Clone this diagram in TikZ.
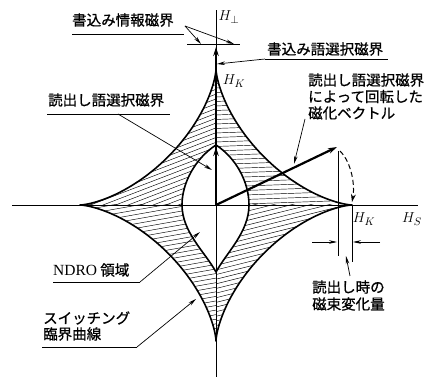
\documentclass[tikz,border=0pt]{standalone}
\usepackage{fontspec}
\newfontfamily\jp{Noto Sans CJK JP}[FakeBold=0.8]
\newfontfamily\tms{Liberation Serif}
\usetikzlibrary{arrows.meta}
\begin{document}
\begin{tikzpicture}[x=1pt,y=-1pt,
  axis/.style={line width=0.7pt},
  curve/.style={line width=1.6pt, line join=round},
  vec/.style={line width=2.2pt, -{Stealth[length=9pt,width=5.5pt]}},
  leader/.style={line width=0.7pt, -{Stealth[length=8pt,width=3.6pt]}},
  thinline/.style={line width=0.7pt},
  uline/.style={line width=0.8pt},
  hatch/.style={line width=0.45pt},
  jl/.style={font=\jp\fontsize{14.5}{17}\selectfont, inner sep=0pt, anchor=west},
  ml/.style={font=\fontsize{15}{18}\selectfont, inner sep=0pt},
]
\useasboundingbox (0,0) rectangle (432,377);

% coordinates
\coordinate (O) at (216,205);
\coordinate (axL) at (12,205);
\coordinate (axR) at (418,205);
\coordinate (axT) at (216,10);
\coordinate (axB) at (216,377);
\coordinate (vtop) at (216,47);
\coordinate (vread) at (216,147);
\coordinate (mtip) at (337,147);
\coordinate (dA) at (340,151);
\coordinate (dB) at (352,202);
\coordinate (l1t) at (338,151);
\coordinate (l1b) at (338,256);
\coordinate (l2t) at (352,205);
\coordinate (l2b) at (352,262);
\coordinate (dl1) at (312,242);
\coordinate (dl2) at (337,242);
\coordinate (dr1) at (380,242);
\coordinate (dr2) at (353,242);
\coordinate (barL) at (187,45);
\coordinate (barR) at (240,45);

% hatching
\begin{scope}
  \clip plot[domain=0:360,samples=241] ({216+136*cos(\x)*cos(\x)*cos(\x)},{205+136*sin(\x)*sin(\x)*sin(\x)}) -- cycle;
  \begin{scope}
    \clip (0,0) rectangle (216,205);
    \foreach \k in {-45,...,45} \draw[hatch, shift={(216,205)}, rotate=21] (-230,\k*4.5) -- (230,\k*4.5);
  \end{scope}
  \begin{scope}
    \clip (216,0) rectangle (432,205);
    \foreach \k in {-45,...,45} \draw[hatch, shift={(216,205)}, rotate=2] (-230,\k*4.5) -- (230,\k*4.5);
  \end{scope}
  \begin{scope}
    \clip (0,205) rectangle (216,377);
    \foreach \k in {-45,...,45} \draw[hatch, shift={(216,205)}, rotate=10] (-230,\k*4.5) -- (230,\k*4.5);
  \end{scope}
  \begin{scope}
    \clip (216,205) rectangle (432,377);
    \foreach \k in {-45,...,45} \draw[hatch, shift={(216,205)}, rotate=14] (-230,\k*4.5) -- (230,\k*4.5);
  \end{scope}
  \fill[white] (216,145) .. controls (196,158) and (182,182) .. (182,205)
     .. controls (182,232) and (205,252) .. (216,272)
     .. controls (227,252) and (249,232) .. (249,205)
     .. controls (249,182) and (236,158) .. (216,145) -- cycle;
\end{scope}

% switching astroid
\draw[curve] plot[domain=0:360,samples=241] ({216+136*cos(\x)*cos(\x)*cos(\x)},{205+136*sin(\x)*sin(\x)*sin(\x)}) -- cycle;
% NDRO lens
\draw[curve] (216,145) .. controls (196,158) and (182,182) .. (182,205)
     .. controls (182,232) and (205,252) .. (216,272)
     .. controls (227,252) and (249,232) .. (249,205)
     .. controls (249,182) and (236,158) .. (216,145) -- cycle;

% axes
\draw[axis] (axL) -- (axR);
\draw[axis] (axB) -- (axT);

% vectors
\draw[vec] (O) -- (vtop);
\draw[vec] (O) -- (vread);
\draw[vec] (O) -- (mtip);
\draw[line width=1pt, dash pattern=on 5pt off 3pt, -{Stealth[length=8pt,width=5pt]}] (dA) .. controls (352,163) and (355,186) .. (dB);

% write information field bar
\draw[line width=1pt] (barL) -- (barR);

% flux change markers
\draw[thinline] (l1t) -- (l1b);
\draw[thinline] (l2t) -- (l2b);
\draw[leader] (dl1) -- (dl2);
\draw[leader] (dr1) -- (dr2);

% labels
\node[ml] (Hperp) at (229,17) {$H_{\perp}$};
\node[ml] (HKt) at (234,81) {$H_K$};
\node[ml] (HKr) at (364,219) {$H_K$};
\node[ml] (HS) at (412,219) {$H_S$};

\node[jl] (wi) at (72,20) {書込み情報磁界};
\coordinate (wiU1) at (72,34);
\coordinate (wiU2) at (184,34);
\draw[uline] (wiU1) -- (wiU2);
\coordinate (wiS) at (185,26);
\coordinate (wiE1) at (201,44);
\coordinate (wiE2) at (234,44);
\draw[leader] (wiS) -- (wiE1);
\draw[leader] (wiS) -- (wiE2);

\node[jl] (ww) at (267,49) {書込み語選択磁界};
\coordinate (wwU1) at (265,59);
\coordinate (wwU2) at (388,59);
\draw[uline] (wwU1) -- (wwU2);
\coordinate (wwE) at (217,64);
\draw[leader] (wwU1) -- (wwE);

\node[jl] (rw) at (48,100) {読出し語選択磁界};
\coordinate (rwU1) at (47,114);
\coordinate (rwU2) at (170,114);
\draw[uline] (rwU1) -- (rwU2);
\coordinate (rwS) at (118,114);
\coordinate (rwE) at (212,170);
\draw[leader] (rwS) -- (rwE);

\node[jl] (mv1) at (308,80) {読出し語選択磁界};
\node[jl] (mv2) at (308,96.5) {によって回転した};
\node[jl] (mv3) at (308,113) {磁化ベクトル};
\coordinate (mvS) at (305,119);
\coordinate (mvE) at (294,164);
\draw[leader] (mvS) -- (mvE);

\node[jl] (fc1) at (312,287) {読出し時の};
\node[jl] (fc2) at (312,304) {磁束変化量};
\coordinate (fcS) at (350,276);
\coordinate (fcE) at (346,256);
\draw[leader] (fcS) -- (fcE);

\node[jl] (nd) at (53,270) {{\tms\fontsize{15.5}{17}\selectfont NDRO} 領域};
\coordinate (ndU1) at (53,282);
\coordinate (ndU2) at (140,282);
\draw[uline] (ndU1) -- (ndU2);
\coordinate (ndE) at (200,232);
\draw[leader] (ndU2) -- (ndE);

\node[jl] (sw1) at (43,318) {スイッチング};
\node[jl] (sw2) at (43,334) {臨界曲線};
\coordinate (swU1) at (42,347);
\coordinate (swU2) at (137,347);
\draw[uline] (swU1) -- (swU2);
\coordinate (swE) at (196,299);
\draw[leader] (swU2) -- (swE);
\end{tikzpicture}
\end{document}
